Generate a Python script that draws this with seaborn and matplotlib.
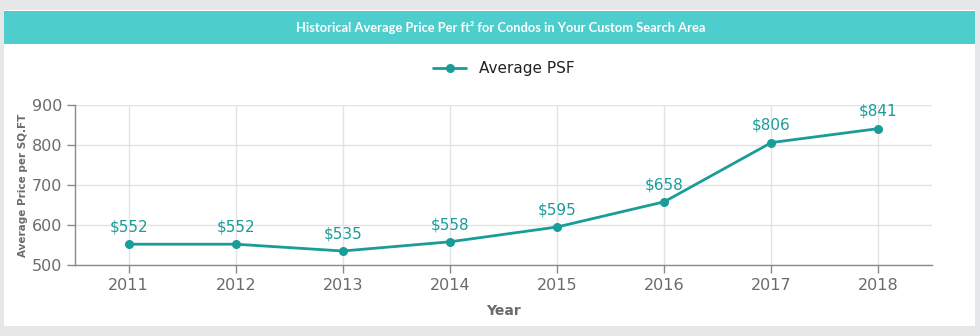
import matplotlib
matplotlib.use("Agg")
import matplotlib.pyplot as plt
import seaborn as sns
import pandas as pd
from matplotlib.patches import Rectangle

years = ["2011", "2012", "2013", "2014", "2015", "2016", "2017", "2018"]
avg_psf = [552, 552, 535, 558, 595, 658, 806, 841]
y_ticks = [500, 600, 700, 800, 900]
title = "Historical Average Price Per ft² for Condos in Your Custom Search Area"
series_name = "Average PSF"

df = pd.DataFrame({"Year": years, series_name: avg_psf})

sns.set_theme(style="whitegrid")
plt.rcParams['font.family'] = ['DejaVu Sans']

teal = "#1a9c98"
gray_txt = "#6b6b6b"

fig = plt.figure(figsize=(9.8, 3.36), dpi=100)
fig.patch.set_facecolor("#e6e7e9")
# white panel
fig.patches.append(Rectangle((4/980, 10/336), 971/980, 316/336, transform=fig.transFigure,
                             facecolor="white", edgecolor="none", zorder=-2))
# header band
fig.patches.append(Rectangle((4/980, (336-44)/336), 971/980, 33/336, transform=fig.transFigure,
                             facecolor="#4ecdcd", edgecolor="none", zorder=-1))
fig.text(501/980, (336-27)/336, title, ha="center", va="center", color="white",
         fontsize=9.3, fontweight="bold", family="Lato")

ax = fig.add_axes([75/980, (336-265)/336, (932-75)/980, 160/336])
ax.set_facecolor("white")
sns.lineplot(data=df, x="Year", y=series_name, ax=ax, color=teal, linewidth=2,
             marker="o", markersize=6.5, markeredgewidth=0, label=series_name, sort=False)

for i, v in enumerate(avg_psf):
    ax.annotate(f"${v}", (i, v), xytext=(0, 7), textcoords="offset points",
                ha="center", va="bottom", color=teal, fontsize=11)

ax.set_xlim(-0.5, len(years) - 0.5)
ax.set_ylim(500, 900)
ax.set_yticks(y_ticks)
ax.grid(True, color="#e3e3e3", linewidth=1)
for s in ["top", "right"]:
    ax.spines[s].set_visible(False)
for s in ["left", "bottom"]:
    ax.spines[s].set_visible(True)
    ax.spines[s].set_color("#8a8a8a")
    ax.spines[s].set_linewidth(1)
ax.tick_params(axis="both", which="both", length=6, width=1, color="#8a8a8a",
               labelcolor=gray_txt, labelsize=11.5, bottom=True, left=True)
ax.tick_params(axis="x", pad=3)
ax.tick_params(axis="y", pad=3)
ax.set_xlabel("Year", fontsize=10, fontweight="bold", color=gray_txt, labelpad=8)
ax.set_ylabel("Average Price per SQ.FT", fontsize=7.5, fontweight="bold", color=gray_txt, labelpad=3)

leg = ax.legend(loc="lower center", bbox_to_anchor=(0.5, 1.14), frameon=False,
                fontsize=11, handlelength=2.2, borderaxespad=0)
for t in leg.get_texts():
    t.set_color("#222222")

fig.savefig("out.png", dpi=100, facecolor=fig.get_facecolor())
